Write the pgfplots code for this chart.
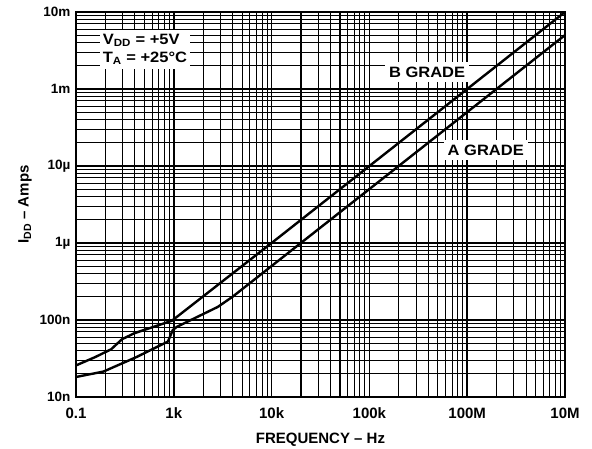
\documentclass[border=0pt]{standalone}
\usepackage{pgfplots}
\pgfplotsset{compat=1.18}
\usepackage{fontspec}
\setmainfont{Liberation Sans}
\newfontfamily\widefont{Liberation Sans}[FakeStretch=1.1]
\begin{document}
\begin{tikzpicture}[font=\bfseries\fontsize{14.5}{16}\selectfont]
\begin{axis}[
  scale only axis, width=489pt, height=385pt,
  xmode=log, ymode=log,
  xmin=0.1, xmax=1e4, ymin=1e-8, ymax=1e-3,
  xtick={0.1,1,10,100,1000,10000},
  xticklabels={0.1,1k,10k,100k,100M,10M},
  ytick={1e-8,1e-7,1e-6,1e-5,1e-4,1e-3},
  yticklabels={10n,100n,1µ,10µ,1m,10m},
  grid=both,
  major grid style={black, line width=1.8pt},
  minor grid style={black, line width=1.1pt},
  axis line style={line width=2.2pt},
  major tick length=0pt, minor tick length=0pt,
  xticklabel style={font=\bfseries\fontsize{15}{17}\selectfont, yshift=-7pt},
  yticklabel style={font=\bfseries\fontsize{13.5}{15}\selectfont, xshift=-2pt},
  xlabel={FREQUENCY -- Hz},
  ylabel={I\textsubscript{DD} -- Amps},
  xlabel style={font=\bfseries\fontsize{15}{17}\selectfont, at={(axis description cs:0.5,-0.112)}, anchor=center},
  ylabel style={font=\bfseries\fontsize{15}{17}\selectfont, at={(axis description cs:-0.104,0.5)}, anchor=center},
  clip=true,
]
% B GRADE
\addplot[black, line width=2.4pt] coordinates {
  (0.1,2.57e-8) (0.158,3.31e-8) (0.229,4.17e-8) (0.295,5.62e-8)
  (0.398,6.76e-8) (0.955,9.77e-8) (10,1e-6)
  (1000,1e-4) (10000,1e-3)
};
% A GRADE
\addplot[black, line width=2.4pt] coordinates {
  (0.1,1.82e-8) (0.191,2.14e-8) (0.417,3.31e-8) (0.871,5.25e-8)
  (0.977,7.41e-8) (1.07,8.13e-8) (2.82,1.48e-7) (3.98,2.0e-7)
  (10000,5.01e-4)
};
\node[fill=white, align=left, inner xsep=3pt, inner ysep=4pt,
      font=\widefont\bfseries\fontsize{15}{17}\selectfont] at (rel axis cs:0.141,0.9026)
  {V\textsubscript{DD} = +5V\\[1pt]T\textsubscript{A} = +25°C};
\node[fill=white, inner xsep=4pt, inner ysep=5pt,
      font=\widefont\bfseries\fontsize{15}{17}\selectfont] at (rel axis cs:0.718,0.844) {B GRADE};
\node[fill=white, inner xsep=4pt, inner ysep=5pt,
      font=\widefont\bfseries\fontsize{15}{17}\selectfont] at (rel axis cs:0.838,0.6416) {A GRADE};
\end{axis}
\pgfresetboundingbox
\path[use as bounding box] (-76pt,-52pt) rectangle (516pt,397pt);
\end{tikzpicture}
\end{document}
